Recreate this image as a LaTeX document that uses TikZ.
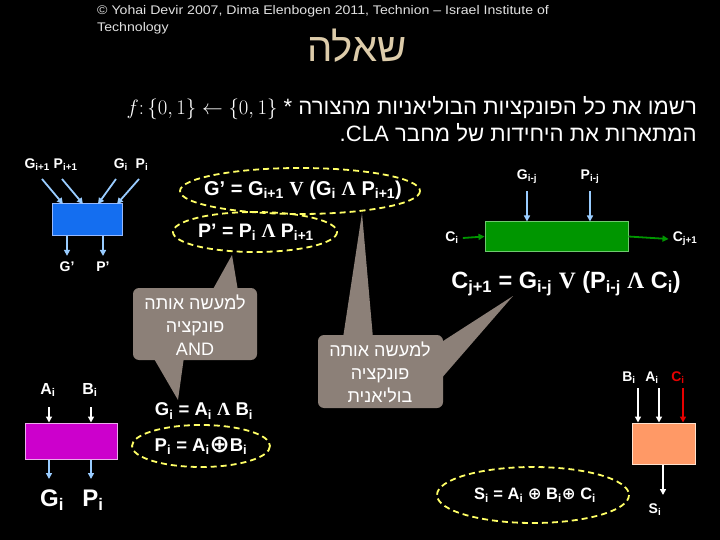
\documentclass[tikz,border=0pt]{standalone}
\usepackage{fontspec}
\setmainfont{Liberation Sans}
\newfontfamily\heb[Script=Hebrew]{Liberation Sans}
\newfontfamily\serf{Liberation Serif}
\newfontfamily\dejavu{DejaVu Sans}
\newfontfamily\copyfont[FakeStretch=1.13]{Liberation Sans}
\TeXXeTstate=1
\usetikzlibrary{arrows.meta}
\newcommand\sbs[1]{\textsubscript{#1}}
\newcommand\orop{{\serf\bfseries V}}
\newcommand\andop{{\serf\bfseries Λ}}
\newcommand\xorop{{\dejavu\bfseries ⊕}}
\newcommand\bigxorop{\raisebox{-0.1em}{\scalebox{1.3}{\dejavu\bfseries ⊕}}}
\definecolor{bluebox}{RGB}{20,110,240}
\definecolor{blueedge}{RGB}{150,185,255}
\definecolor{greenbox}{RGB}{0,150,0}
\definecolor{greenedge}{RGB}{110,200,110}
\definecolor{magbox}{RGB}{204,0,204}
\definecolor{magedge}{RGB}{235,170,235}
\definecolor{salbox}{RGB}{255,153,102}
\definecolor{saledge}{RGB}{255,225,205}
\definecolor{ltblue}{RGB}{153,204,255}
\definecolor{arrgreen}{RGB}{0,150,0}
\definecolor{arrred}{RGB}{230,0,0}
\definecolor{callgray}{RGB}{140,128,120}
\definecolor{dashyel}{RGB}{255,255,102}
\definecolor{titlecol}{RGB}{221,204,170}
\definecolor{copycol}{RGB}{225,225,225}
\begin{document}
\begin{tikzpicture}[x=1pt,y=-1pt,
  lbl/.style={text=white,inner sep=0,font=\bfseries\fontsize{14}{16}\selectfont},
  biglbl/.style={text=white,inner sep=0,font=\bfseries\fontsize{24}{28}\selectfont},
  formula/.style={text=white,inner sep=0,font=\bfseries\fontsize{#1}{#1}\selectfont},
  unitbox/.style={draw=#1,line width=1pt,inner sep=0},
  tip/.style={-{Triangle[length=6pt,width=6pt]}},
  arrlb/.style={draw=ltblue,line width=1.8pt,tip},
  arrw/.style={draw=white,line width=1.8pt,tip},
  dashell/.style={draw=dashyel,line width=1.8pt,dash pattern=on 6pt off 4pt},
  calltext/.style={text=white,inner sep=0,align=center,font=\heb\fontsize{18}{23}\selectfont},
]
\fill[black] (0,0) rectangle (720,540);
\useasboundingbox (0,0) rectangle (720,540);

% header
\node[anchor=north west,inner sep=0,align=left,text=copycol,font=\copyfont\fontsize{12.5}{17}\selectfont] (copy) at (97,5)
  {© Yohai Devir 2007, Dima Elenbogen 2011, Technion – Israel Institute of\\Technology};
\node[inner sep=0,text=titlecol,font=\heb\fontsize{40}{40}\selectfont] (title) at (357,46) {\beginR שאלה\endR};
\node[anchor=east,inner sep=0,text=white,font=\heb\fontsize{22.2}{22.2}\selectfont] (line1) at (697,108)
  {\beginR רשמו את כל הפונקציות הבוליאניות מהצורה \beginL$f\colon\{0,1\}\leftarrow\{0,1\}$ *\endL\endR};
\node[anchor=east,inner sep=0,text=white,font=\heb\fontsize{22.2}{22.2}\selectfont] (line2) at (697,133)
  {\beginR המתארות את היחידות של מחבר \beginL CLA\endL.\endR};

% callouts
\fill[callgray,rounded corners=6pt] (133,288) rectangle (257,360);
\fill[callgray] (212,291) -- (232,255) -- (238,291) -- cycle;
\fill[callgray] (153,357) -- (178,400) -- (184,357) -- cycle;
\node[calltext] (call1) at (195,325) {\beginR למעשה אותה\endR\\\beginR פונקציה\endR\\AND};
\fill[callgray,rounded corners=6pt] (318,335) rectangle (443,408);
\fill[callgray] (343,338) -- (362,213) -- (373,338) -- cycle;
\fill[callgray] (440,343) -- (513,296) -- (440,380) -- cycle;
\node[calltext] (call2) at (380,372) {\beginR למעשה אותה\endR\\\beginR פונקציה\endR\\\beginR בוליאנית\endR};

% blue unit
\node[unitbox=blueedge,fill=bluebox,minimum width=70,minimum height=31] (blue) at (87,219.5) {};
\node[lbl] (bl1) at (51,165) {G\sbs{i+1} P\sbs{i+1}};
\node[lbl] (bl2) at (131,165) {G\sbs{i}\ \ P\sbs{i}};
\coordinate (b1s) at (42,179); \coordinate (b1e) at (63,204);
\coordinate (b2s) at (62,179); \coordinate (b2e) at (83,204);
\coordinate (b3s) at (116,179); \coordinate (b3e) at (98,204);
\coordinate (b4s) at (139,179); \coordinate (b4e) at (117,204);
\draw[arrlb] (b1s) -- (b1e);
\draw[arrlb] (b2s) -- (b2e);
\draw[arrlb] (b3s) -- (b3e);
\draw[arrlb] (b4s) -- (b4e);
\node[lbl] (gp) at (67,267) {G’};
\node[lbl] (pp) at (103,267) {P’};
\draw[arrlb] (blue.south -| gp) -- ([yshift=6pt]gp.north);
\draw[arrlb] (blue.south -| pp) -- ([yshift=6pt]pp.north);

% G', P' formulas
\draw[dashell] (300,191) ellipse [x radius=120,y radius=23];
\node[formula=20] (fg) at (303,190) {G’ = G\sbs{i+1} \orop{} (G\sbs{i} \andop{} P\sbs{i+1})};
\draw[dashell] (255,232) ellipse [x radius=82,y radius=20];
\node[formula=19.5] (fp) at (256,232) {P’ = P\sbs{i} \andop{} P\sbs{i+1}};

% green unit
\node[unitbox=greenedge,fill=greenbox,minimum width=143,minimum height=29] (green) at (556.5,236.5) {};
\node[lbl] (gij) at (527,177) {G\sbs{i-j}};
\node[lbl] (pij) at (590,177) {P\sbs{i-j}};
\draw[arrlb] ([yshift=-7pt]gij.south) -- (green.north -| gij);
\draw[arrlb] ([yshift=-7pt]pij.south) -- (green.north -| pij);
\node[lbl] (ci) at (452,238) {C\sbs{i}};
\node[lbl] (cj1) at (685,239) {C\sbs{j+1}};
\draw[draw=arrgreen,line width=1.8pt,tip] (ci.east) ++(4,0) -- (green.west);
\draw[draw=arrgreen,line width=1.8pt,tip] (green.east) -- ([xshift=-4pt]cj1.west);
\node[formula=23.5] (fc) at (566,284) {C\sbs{j+1} = G\sbs{i-j} \orop{} (P\sbs{i-j} \andop{} C\sbs{i})};

% magenta unit
\node[unitbox=magedge,fill=magbox,minimum width=92,minimum height=36] (mag) at (71,441) {};
\node[lbl,font=\bfseries\fontsize{16}{18}\selectfont] (ai) at (48,390) {A\sbs{i}};
\node[lbl,font=\bfseries\fontsize{16}{18}\selectfont] (bi) at (90,390) {B\sbs{i}};
\draw[arrw] (49,407) -- (mag.north -| 49,0);
\draw[arrw] (91,407) -- (mag.north -| 91,0);
\node[biglbl] (gi) at (52,500) {G\sbs{i}};
\node[biglbl] (pi) at (93,500) {P\sbs{i}};
\draw[arrlb] (mag.south -| 49,0) -- (49,479);
\draw[arrlb] (mag.south -| 91,0) -- (91,479);
\node[formula=18.5] (fgi) at (204,411) {G\sbs{i} = A\sbs{i} \andop{} B\sbs{i}};
\draw[dashell] (201,446) ellipse [x radius=69,y radius=21];
\node[formula=18.5] (fpi) at (201,446) {P\sbs{i} = A\sbs{i}\bigxorop{}B\sbs{i}};

% salmon unit
\node[unitbox=saledge,fill=salbox,minimum width=63,minimum height=41] (sal) at (663.5,443.5) {};
\node[lbl] (bi2) at (629,378) {B\sbs{i}};
\node[lbl] (ai2) at (652,378) {A\sbs{i}};
\node[lbl,text=arrred] (ci2) at (678,378) {C\sbs{i}};
\draw[arrw] (638,388) -- (sal.north -| 638,0);
\draw[arrw] (659,388) -- (sal.north -| 659,0);
\draw[draw=arrred,line width=1.8pt,tip] (683,388) -- (sal.north -| 683,0);
\draw[arrw] (sal.south -| 663,0) -- (663,495);
\node[lbl] (si) at (655,510) {S\sbs{i}};
\draw[dashell] (533,495) ellipse [x radius=96,y radius=28];
\node[formula=16.5] (fsi) at (535,495) {S\sbs{i} = A\sbs{i} \xorop{} B\sbs{i}\xorop{} C\sbs{i}};
\end{tikzpicture}
\end{document}
